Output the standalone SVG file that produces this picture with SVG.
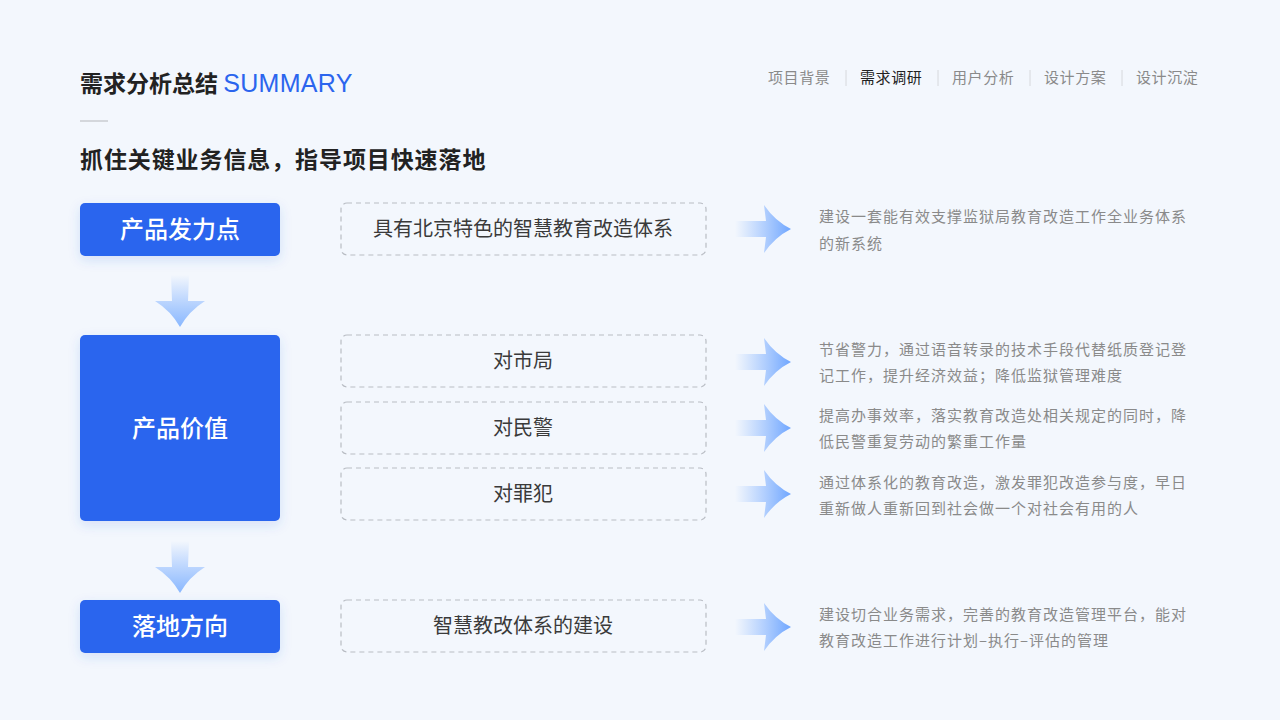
<svg xmlns="http://www.w3.org/2000/svg" width="1280" height="720" viewBox="0 0 1280 720">
<defs>
<linearGradient id="gr" x1="0" y1="0" x2="1" y2="0"><stop offset="0" stop-color="#7fb0ff" stop-opacity="0"/><stop offset="1" stop-color="#6fa6ff"/></linearGradient>
<linearGradient id="gd" x1="0" y1="0" x2="0" y2="1"><stop offset="0" stop-color="#7fb0ff" stop-opacity="0"/><stop offset="1" stop-color="#8ab8ff"/></linearGradient>
<filter id="sh" x="-30%" y="-30%" width="160%" height="160%"><feDropShadow dx="0" dy="4" stdDeviation="6" flood-color="#2a5fd8" flood-opacity="0.15"/></filter>
<path id="ra" d="M-56,-8 L-25,-8 L-27,-24 Q-16,-8 0,0 Q-16,8 -27,24 L-25,8 L-56,8 Z"/>
<path id="da" d="M-9,-52 L9,-52 L8,-26 L25,-26 Q9,-16 0,0 Q-9,-16 -25,-26 L-8,-26 Z"/>
</defs>
<style>
text{font-family:"Noto Sans CJK SC","Noto Sans",sans-serif}
.bx{fill:#2b65ee;filter:url(#sh)}
.bt{fill:#fff;font-size:24px;font-weight:500;text-anchor:middle}
.db{fill:none;stroke:#b9bdc4;stroke-dasharray:5 4;stroke-width:1.2}
.dt{fill:#3a3a3a;font-size:20px;text-anchor:middle}
.rt{fill:#8a8a8a;font-size:15px;letter-spacing:1px}
.nv{fill:#8a8a8a;font-size:15px;letter-spacing:0.6px}
.sep{stroke:#d6d8dc;stroke-width:1}
</style>
<rect width="1280" height="720" fill="#f3f7fd"/>
<text x="80" y="92" font-size="23" font-weight="700" fill="#222">需求分析总结 <tspan fill="#2b65ee" font-family="Liberation Sans,sans-serif" font-weight="400" font-size="25" letter-spacing="0.3">SUMMARY</tspan></text>
<rect x="80" y="120" width="28" height="2" fill="#d4d7dc"/>
<text x="80" y="168" font-size="23" font-weight="700" fill="#222" letter-spacing="0.9">抓住关键业务信息，指导项目快速落地</text>
<g id="nav">
<text x="768" y="83" class="nv">项目背景</text>
<line x1="846" y1="70" x2="846" y2="86" class="sep"/>
<text x="860" y="83" class="nv" style="fill:#222">需求调研</text>
<line x1="938" y1="70" x2="938" y2="86" class="sep"/>
<text x="952" y="83" class="nv">用户分析</text>
<line x1="1030" y1="70" x2="1030" y2="86" class="sep"/>
<text x="1044" y="83" class="nv">设计方案</text>
<line x1="1122" y1="70" x2="1122" y2="86" class="sep"/>
<text x="1136" y="83" class="nv">设计沉淀</text>
</g>
<g id="n1"><rect x="80" y="203" width="200" height="53" rx="5" class="bx"/><text x="180" y="238" class="bt">产品发力点</text></g>
<g id="n2"><rect x="80" y="335" width="200" height="186" rx="5" class="bx"/><text x="180" y="437" class="bt">产品价值</text></g>
<g id="n3"><rect x="80" y="600" width="200" height="53" rx="5" class="bx"/><text x="180" y="635" class="bt">落地方向</text></g>
<g id="d1"><rect x="341" y="203" width="365" height="52" rx="6" class="db"/><text x="523" y="236" class="dt">具有北京特色的智慧教育改造体系</text></g>
<g id="d2"><rect x="341" y="335" width="365" height="52" rx="6" class="db"/><text x="523" y="368" class="dt">对市局</text></g>
<g id="d3"><rect x="341" y="402" width="365" height="52" rx="6" class="db"/><text x="523" y="435" class="dt">对民警</text></g>
<g id="d4"><rect x="341" y="468" width="365" height="52" rx="6" class="db"/><text x="523" y="501" class="dt">对罪犯</text></g>
<g id="d5"><rect x="341" y="600" width="365" height="52" rx="6" class="db"/><text x="523" y="633" class="dt">智慧教改体系的建设</text></g>
<g id="connectors">
<use href="#da" x="180" y="327" fill="url(#gd)"/>
<use href="#da" x="180" y="593" fill="url(#gd)"/>
<use href="#ra" x="791" y="229" fill="url(#gr)"/>
<use href="#ra" x="791" y="362" fill="url(#gr)"/>
<use href="#ra" x="791" y="428" fill="url(#gr)"/>
<use href="#ra" x="791" y="494" fill="url(#gr)"/>
<use href="#ra" x="791" y="627" fill="url(#gr)"/>
</g>
<g id="r1"><text x="819" y="222" class="rt">建设一套能有效支撑监狱局教育改造工作全业务体系</text><text x="819" y="249" class="rt">的新系统</text></g>
<g id="r2"><text x="819" y="355" class="rt">节省警力，通过语音转录的技术手段代替纸质登记登</text><text x="819" y="381" class="rt">记工作，提升经济效益；降低监狱管理难度</text></g>
<g id="r3"><text x="819" y="421" class="rt">提高办事效率，落实教育改造处相关规定的同时，降</text><text x="819" y="447" class="rt">低民警重复劳动的繁重工作量</text></g>
<g id="r4"><text x="819" y="488" class="rt">通过体系化的教育改造，激发罪犯改造参与度，早日</text><text x="819" y="514" class="rt">重新做人重新回到社会做一个对社会有用的人</text></g>
<g id="r5"><text x="819" y="620" class="rt">建设切合业务需求，完善的教育改造管理平台，能对</text><text x="819" y="646" class="rt">教育改造工作进行计划–执行–评估的管理</text></g>
</svg>
